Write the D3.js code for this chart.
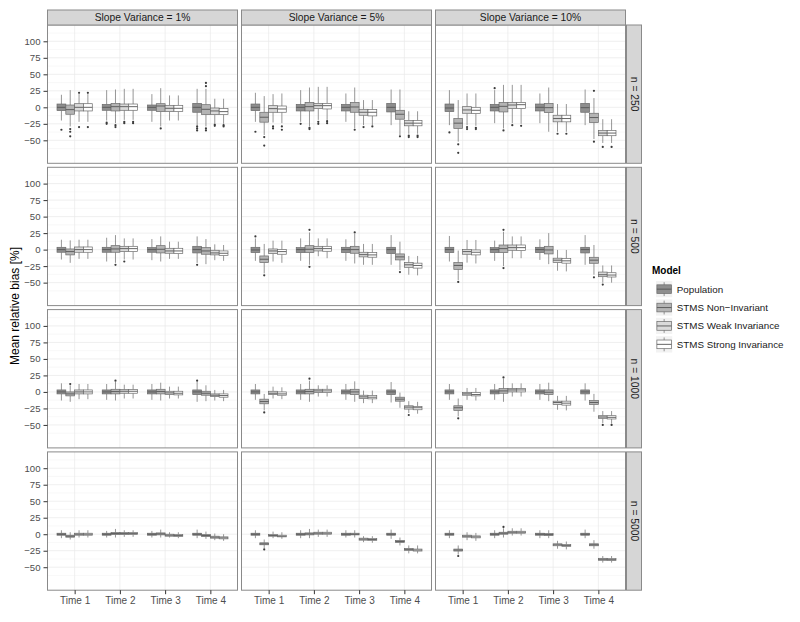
<!DOCTYPE html>
<html><head><meta charset="utf-8">
<script src="https://cdn.jsdelivr.net/npm/d3@7"></script>
<style>body{margin:0;background:#fff}</style>
</head><body><svg id="c" width="800" height="622" xmlns="http://www.w3.org/2000/svg"></svg>
<script>
// ---------- data ----------
const colLabels = ["Slope Variance = 1%", "Slope Variance = 5%", "Slope Variance = 10%"];
const rowLabels = ["n = 250", "n = 500", "n = 1000", "n = 5000"];
const timeLabels = ["Time 1", "Time 2", "Time 3", "Time 4"];
const modelLabels = ["Population", "STMS Non\u2212Invariant", "STMS Weak Invariance", "STMS Strong Invariance"];
const yTicks = [-50, -25, 0, 25, 50, 75, 100];
const yMinor = [-62.5, -37.5, -12.5, 12.5, 37.5, 62.5, 87.5, 112.5];

// each box: [lower whisker, q1, median, q3, upper whisker]; order: slope variance -> time -> model
const boxes_n250 = [
  [ [[-20,-5,0,5,19],[-29,-10.5,-3.5,3.5,26],[-22,-5.5,0,5.5,20],[-22,-5.5,0,5.5,20]],
    [[-20,-4.5,0,4.5,26],[-24,-5.5,1,6,27],[-19,-4.5,1,5,28],[-19,-4.5,1,5,28]],
    [[-22,-4.5,0,3.5,20],[-29,-6.5,2,5.5,29],[-20,-6.5,-1.5,3,18],[-20,-6.5,-1.5,3,18]],
    [[-27,-7.5,0,6,28],[-29,-11,-3,4,28],[-24,-11,-5.5,-1,13],[-25,-11,-6.5,-2,13]] ],
  [ [[-22,-5,0,5,22],[-42,-22.5,-15,-7.5,17],[-23,-7.5,-2,2.5,20],[-24,-7.5,-2.5,2,21]],
    [[-22,-5.5,0,4.5,26],[-29,-5.5,1,7.5,30],[-19,-2,2.5,6,31],[-19,-2.5,2.5,6,31]],
    [[-22,-5.5,0,4.5,21],[-32,-7.5,0.5,7.5,30],[-27,-12,-7.5,-3,11],[-27,-13,-7.5,-3.5,11]],
    [[-27,-7,0,6,27],[-42,-18,-10.5,-4.5,27],[-40,-28,-24,-20,-6],[-40,-28,-24,-20,-6]] ],
  [ [[-27,-6.5,-1,5,26],[-52,-32,-24,-17,11],[-27,-9,-4,1,21],[-28,-9.5,-4.5,0,21]],
    [[-24,-5.5,0,4.5,26],[-32,-7,1.5,7.5,34],[-24,-2,3.5,7.5,34],[-25,-2,4,7.5,34]],
    [[-24,-5.5,0,5,21],[-37,-8,-0.5,6,30],[-37,-22,-17,-12,5],[-37,-22,-17,-12,5]],
    [[-27,-7.5,-0.5,6,27],[-48,-23,-15.5,-9,14],[-54,-43,-39,-35,-18],[-54,-43,-39,-35,-18]] ]
];
const boxes_n500 = [
  [ [[-15,-4,0,3.5,15],[-20,-8,-3,1,14],[-14,-4,0,4,15],[-14,-4,0,4,15]],
    [[-18,-4,0,3.5,18],[-20,-4,1,6,22],[-15,-3,1.5,5,17],[-15,-3,1.5,5,17]],
    [[-16,-4,0,3,16],[-18,-5,0.5,6,20],[-14,-5.5,-2,2,12],[-14,-6,-2,2,12]],
    [[-20,-5,0,5,20],[-22,-7,-2,3,16],[-16,-8,-5,-1,8],[-17,-9,-5.5,-2,7]] ],
  [ [[-17,-4.5,-0.5,3.5,17],[-36,-19.7,-14.6,-9.6,8.6],[-18,-6,-2,1,13.6],[-20,-7,-3,0,13.6]],
    [[-17,-4.5,0,3,17],[-23,-4.5,0.5,6,26],[-10,-2,1.5,5,17],[-13,-2.5,1.5,5,17]],
    [[-17,-4.5,0,3.5,15.6],[-21,-5.5,0,5,23.7],[-23,-11,-7.6,-4,8.6],[-23,-11.5,-8,-4.5,8.6]],
    [[-23,-6,0,3.5,22],[-31,-15.6,-11,-6.5,12],[-38,-26.8,-23,-19.7,-9.6],[-39,-28,-24,-20.5,-9.6]] ],
  [ [[-18,-4.5,0,3.5,20.7],[-46,-30,-24,-19.7,-1.5],[-19.7,-7,-3,0,14.6],[-21,-8,-4,-0.5,14.6]],
    [[-17,-4.5,0,3,13.6],[-25,-4.5,1.5,7,27],[-13,-1,3,7,20],[-13,-1.5,3,7,20]],
    [[-15.6,-4.5,0,3.5,15.6],[-22,-6.5,-0.5,5,25],[-32,-19.7,-16,-13,-0.5],[-33,-20.5,-17,-13.5,-0.5]],
    [[-23,-5,0,3.5,22],[-38,-20.7,-16,-11.6,7],[-50,-41,-38,-34,-24],[-50,-41.5,-38.5,-35,-24]] ]
];
const boxes_n1000 = [
  [ [[-13,-3,0,3,13],[-15,-6,-3,0,10],[-11,-3,0,3,12],[-11,-3,0,3,12]],
    [[-12,-3,0,3,12],[-13,-3,0.5,4,15],[-10,-2,1,3.5,11],[-10,-2,1,3.5,11]],
    [[-12,-3,0,3,12],[-13,-3,0.5,4,14],[-10,-4,-1.5,1,8],[-10,-4.5,-2,1,8]],
    [[-15,-4,0,3,15],[-14,-5,-2,1,10],[-13,-7,-5,-3,3],[-14,-8,-5.5,-3,3]] ],
  [ [[-12,-3,0,3,12],[-28,-18,-14.6,-11,-3],[-10,-4,-2,1,8],[-11,-5,-3,0,7]],
    [[-12,-3,0,3,12],[-15,-3,0.5,4,17],[-7,-1,1.5,4,10],[-7,-1,1.5,4,10]],
    [[-12,-3,0,3,12],[-15,-4,0,4,16],[-17,-10,-7.5,-5,2],[-17,-10.5,-8,-5.5,2]],
    [[-16,-4,0,3,15],[-24,-14,-11,-8,-1],[-32,-26,-23,-21,-14],[-33,-27,-24,-22,-15]] ],
  [ [[-12,-3,0,3,12],[-37,-28,-24,-21,-10],[-12,-5,-3,-1,6],[-13,-6,-4,-1,6]],
    [[-12,-3,0,3,12],[-15,-2,1.5,5,20],[-7,0,3,5,13],[-7,0,3,5,13]],
    [[-12,-3,0,3,12],[-14,-4,-0.5,3,14],[-27,-19,-16,-14,-6],[-28,-20,-17,-14,-6]],
    [[-13,-3,0,3,13],[-30,-19,-16,-13,-3],[-47,-40,-38,-36,-29],[-48,-41,-38.5,-36,-29]] ]
];
const boxes_n5000 = [
  [ [[-6,-1.5,0,1.5,6],[-8,-4.5,-3,-1.5,3],[-5,-1.5,0,1.5,6],[-5,-1.5,0,1.5,6]],
    [[-5,-1.5,0,1.5,5],[-5,-0.5,1,2.5,8],[-4,-0.5,1,2.5,6],[-4,-0.5,1,2.5,6]],
    [[-5,-1.5,0,1.5,5],[-5,-1,0.5,2,7],[-5,-3,-1.5,0,3],[-6,-3.5,-2,-0.5,3]],
    [[-6,-1.5,0,1.5,7],[-7,-3.5,-2,-0.5,4],[-9,-6,-4.5,-3,1],[-10,-7,-5.5,-4,0]] ],
  [ [[-6,-1.5,0,1.5,6],[-21,-16,-14.6,-13,-8],[-6,-3,-2,-0.5,4],[-7,-4,-3,-1.5,3]],
    [[-6,-1.5,0,1.5,6],[-6,-1,0.5,2,8],[-4,0,1.5,3,7],[-4,0,1.5,3,7]],
    [[-5,-1.5,0,1.5,6],[-5,-1,0,1.5,6],[-12,-9,-7.5,-6,-3],[-13,-9.5,-8,-6.5,-3]],
    [[-7,-1.5,0,1.5,7],[-17,-12.5,-11,-9.5,-5],[-29,-24.5,-23,-21.5,-17],[-29,-25.5,-24,-22.5,-17]] ],
  [ [[-6,-1.5,0,1.5,6],[-31,-25.5,-24,-22.5,-17],[-9,-4.5,-3,-1.5,3],[-10,-5.5,-4,-2.5,2]],
    [[-6,-1.5,0,1.5,6],[-5,0,1.5,3,9],[-2,1.5,3,4.5,9],[-2,1.5,3,4.5,9]],
    [[-6,-1.5,0,1.5,6],[-6,-2,-0.5,1,6],[-22,-17.5,-16,-14.5,-10],[-23,-18.5,-17,-15.5,-11]],
    [[-6,-1.5,0,1.5,7],[-22,-17.5,-16,-14.5,-9],[-43,-39.5,-38,-36.5,-33],[-43,-40,-38.5,-37,-33]] ]
];

// outliers: [slope variance index, time index, model index, value]
const outliers_n250 = [
  [0,0,0,-34],[0,0,1,-33],[0,0,1,-37],[0,0,1,-44],[0,0,2,-30],[0,0,3,-30],[0,0,2,22],[0,0,3,22],
  [0,1,0,-23],[0,1,0,-25],[0,1,1,-27],[0,1,1,-30],[0,1,2,-22],[0,1,2,-24],[0,1,3,-22],[0,1,3,-24],
  [0,2,1,-32],[0,3,0,-29],[0,3,0,-32],[0,3,0,-35],[0,3,1,32],[0,3,1,37],[0,3,1,-32],[0,3,1,-35],
  [0,3,2,-26],[0,3,2,-28],[0,3,3,-27],[0,3,3,-29],
  [1,0,0,-37],[1,0,1,-45],[1,0,1,-58],[1,0,2,-29],[1,0,2,-32],[1,0,3,-29],[1,0,3,-34],
  [1,1,0,-25],[1,1,1,-31],[1,1,1,-33],[1,1,2,-22],[1,1,2,-25],[1,1,3,-21],[1,1,3,-24],
  [1,2,1,-34],[1,2,2,-30],[1,2,3,-29],[1,3,1,-44],[1,3,2,-43],[1,3,2,-45],[1,3,3,-43],[1,3,3,-45],
  [2,0,0,-38],[2,0,1,-56],[2,0,1,-69],[2,0,2,-30],[2,0,2,-33],[2,0,3,-31],[2,0,3,-33],
  [2,1,0,29],[2,1,1,-35],[2,1,2,-27],[2,1,3,-28],[2,2,2,-40],[2,2,3,-40],
  [2,3,1,25],[2,3,1,-52],[2,3,2,-60],[2,3,3,-60]
];
const outliers_n500 = [
  [0,1,1,-23],[0,1,2,-18],[0,3,0,-23],[1,0,0,20],[1,0,1,-39],[1,1,1,30],[1,1,1,-26],[1,2,1,26],
  [1,3,1,-34],[2,0,1,-49],[2,1,1,30],[2,1,1,-28],[2,3,1,-42],[2,3,2,-53]
];
const outliers_n1000 = [
  [0,0,1,12],[0,1,1,17],[0,3,0,17],[1,0,1,-31],[1,1,1,20],[1,3,2,-35],
  [2,0,1,-40],[2,1,1,22],[2,3,2,-50],[2,3,3,-50]
];
const outliers_n5000 = [
  [1,0,1,-23],[2,0,1,-33],[2,1,1,11]
];

// ---------- layout / style ----------
const fills = ["#8e8e8e", "#b4b4b4", "#dadada", "#ffffff"];
const font = "'Liberation Sans', Arial, Helvetica, sans-serif";
const PX = [47.5, 241.5, 435.5], PW = 190;
const PY = [25, 167.3, 309.6, 451.9], PH = 138.3;
const x = d3.scaleLinear().domain([0.4, 4.6]).range([0, PW]);
const y = d3.scaleLinear().domain([-84.8, 124.7]).range([PH, 0]);
const groupW = 0.78, bw = groupW / 4;
const allBoxes = [boxes_n250, boxes_n500, boxes_n1000, boxes_n5000];
const allOut = [outliers_n250, outliers_n500, outliers_n1000, outliers_n5000];
const boxStroke = "#6a6a6a";
const fmt = d => d < 0 ? "\u2212" + Math.abs(d) : String(d);

const svg = d3.select("#c");
svg.append("rect").attr("width", 800).attr("height", 622).attr("fill", "#fff");

rowLabels.forEach((rl, r) => {
  colLabels.forEach((cl, c) => {
    const g = svg.append("g").attr("transform", `translate(${PX[c]},${PY[r]})`);
    g.append("rect").attr("width", PW).attr("height", PH).attr("fill", "#fff");
    g.selectAll(".mn").data(yMinor).join("line")
      .attr("x1", 0).attr("x2", PW).attr("y1", d => y(d)).attr("y2", d => y(d))
      .attr("stroke", "#f4f4f4").attr("stroke-width", 0.6);
    g.selectAll(".mj").data(yTicks).join("line")
      .attr("x1", 0).attr("x2", PW).attr("y1", d => y(d)).attr("y2", d => y(d))
      .attr("stroke", "#e8e8e8").attr("stroke-width", 0.7);
    g.selectAll(".vx").data(timeLabels).join("line")
      .attr("x1", (d, i) => x(i + 1)).attr("x2", (d, i) => x(i + 1))
      .attr("y1", 0).attr("y2", PH).attr("stroke", "#e8e8e8").attr("stroke-width", 0.7);

    const hw = (x(bw) - x(0)) / 2;
    allBoxes[r][c].forEach((tb, ti) => {
      tb.forEach((b, m) => {
        const cx = x(ti + 1 + (m - 1.5) * bw);
        const bg = g.append("g");
        bg.append("line").attr("x1", cx).attr("x2", cx).attr("y1", y(b[3])).attr("y2", y(b[4]))
          .attr("stroke", boxStroke).attr("stroke-width", 0.7);
        bg.append("line").attr("x1", cx).attr("x2", cx).attr("y1", y(b[1])).attr("y2", y(b[0]))
          .attr("stroke", boxStroke).attr("stroke-width", 0.7);
        bg.append("rect").attr("x", cx - hw).attr("width", 2 * hw)
          .attr("y", y(b[3])).attr("height", Math.max(0.8, y(b[1]) - y(b[3])))
          .attr("fill", fills[m]).attr("stroke", boxStroke).attr("stroke-width", 0.7);
        bg.append("line").attr("x1", cx - hw).attr("x2", cx + hw).attr("y1", y(b[2])).attr("y2", y(b[2]))
          .attr("stroke", "#555").attr("stroke-width", 0.9);
      });
    });
    g.selectAll(".out").data(allOut[r].filter(o => o[0] === c)).join("circle")
      .attr("cx", o => x(o[1] + 1 + (o[2] - 1.5) * bw)).attr("cy", o => y(o[3]))
      .attr("r", 1.1).attr("fill", "#3a3a3a");

    g.append("rect").attr("width", PW).attr("height", PH).attr("fill", "none")
      .attr("stroke", "#8a8a8a").attr("stroke-width", 1);
  });

  // y axis
  const ya = svg.append("g").attr("transform", `translate(${PX[0]},${PY[r]})`)
    .call(d3.axisLeft(y).tickValues(yTicks).tickSize(4).tickPadding(3).tickFormat(fmt));
  ya.select(".domain").remove();
  ya.selectAll("line").attr("stroke", "#333");
  ya.selectAll("text").attr("font-family", font).attr("font-size", "9.6px").attr("fill", "#4d4d4d");

  // right strip
  const sx = PX[2] + PW + 1;
  svg.append("rect").attr("x", sx).attr("y", PY[r]).attr("width", 15).attr("height", PH)
    .attr("fill", "#d6d6d6").attr("stroke", "#8a8a8a").attr("stroke-width", 1);
  svg.append("text").attr("transform", `translate(${sx + 7.5},${PY[r] + PH / 2}) rotate(90)`)
    .attr("text-anchor", "middle").attr("dominant-baseline", "central")
    .attr("font-family", font).attr("font-size", "10.3px").attr("fill", "#1a1a1a").text(rl);
});

// top strips
colLabels.forEach((cl, c) => {
  svg.append("rect").attr("x", PX[c]).attr("y", 10).attr("width", PW).attr("height", 15)
    .attr("fill", "#d6d6d6").attr("stroke", "#8a8a8a").attr("stroke-width", 1);
  svg.append("text").attr("x", PX[c] + PW / 2).attr("y", 17.5)
    .attr("text-anchor", "middle").attr("dominant-baseline", "central")
    .attr("font-family", font).attr("font-size", "10.3px").attr("fill", "#1a1a1a").text(cl);
});

// x axes (bottom row)
colLabels.forEach((cl, c) => {
  const xa = svg.append("g").attr("transform", `translate(${PX[c]},${PY[3] + PH})`)
    .call(d3.axisBottom(x).tickValues([1, 2, 3, 4]).tickSize(4).tickPadding(3)
      .tickFormat(d => timeLabels[d - 1]));
  xa.select(".domain").remove();
  xa.selectAll("line").attr("stroke", "#333");
  xa.selectAll("text").attr("font-family", font).attr("font-size", "10px").attr("fill", "#4d4d4d");
});

// y title
svg.append("text").attr("transform", "translate(15,306) rotate(-90)")
  .attr("text-anchor", "middle").attr("dominant-baseline", "central")
  .attr("font-family", font).attr("font-size", "12px").attr("fill", "#000")
  .text("Mean relative bias [%]");

// legend
const lg = svg.append("g").attr("transform", "translate(652,0)");
lg.append("text").attr("x", 0).attr("y", 270).attr("dominant-baseline", "central")
  .attr("font-family", font).attr("font-size", "10px").attr("font-weight", "bold").text("Model");
modelLabels.forEach((ml, i) => {
  const ky = 280.5 + i * 18.4, kx = 3.5, ks = 17.3;
  const k = lg.append("g").attr("transform", `translate(${kx},${ky})`);
  k.append("rect").attr("width", ks).attr("height", ks).attr("fill", "#f2f2f2")
    .attr("stroke", "#fff").attr("stroke-width", 1);
  k.append("line").attr("x1", ks / 2).attr("x2", ks / 2).attr("y1", ks * 0.1).attr("y2", ks * 0.9)
    .attr("stroke", boxStroke).attr("stroke-width", 0.7);
  k.append("rect").attr("x", ks * 0.08).attr("width", ks * 0.84).attr("y", ks * 0.25).attr("height", ks * 0.5)
    .attr("fill", fills[i]).attr("stroke", boxStroke).attr("stroke-width", 0.7);
  k.append("line").attr("x1", ks * 0.08).attr("x2", ks * 0.92).attr("y1", ks / 2).attr("y2", ks / 2)
    .attr("stroke", "#555").attr("stroke-width", 0.9);
  lg.append("text").attr("x", kx + ks + 4).attr("y", ky + ks / 2).attr("dominant-baseline", "central")
    .attr("font-family", font).attr("font-size", "9.8px").attr("fill", "#1a1a1a").text(ml);
});
</script>
</body></html>
